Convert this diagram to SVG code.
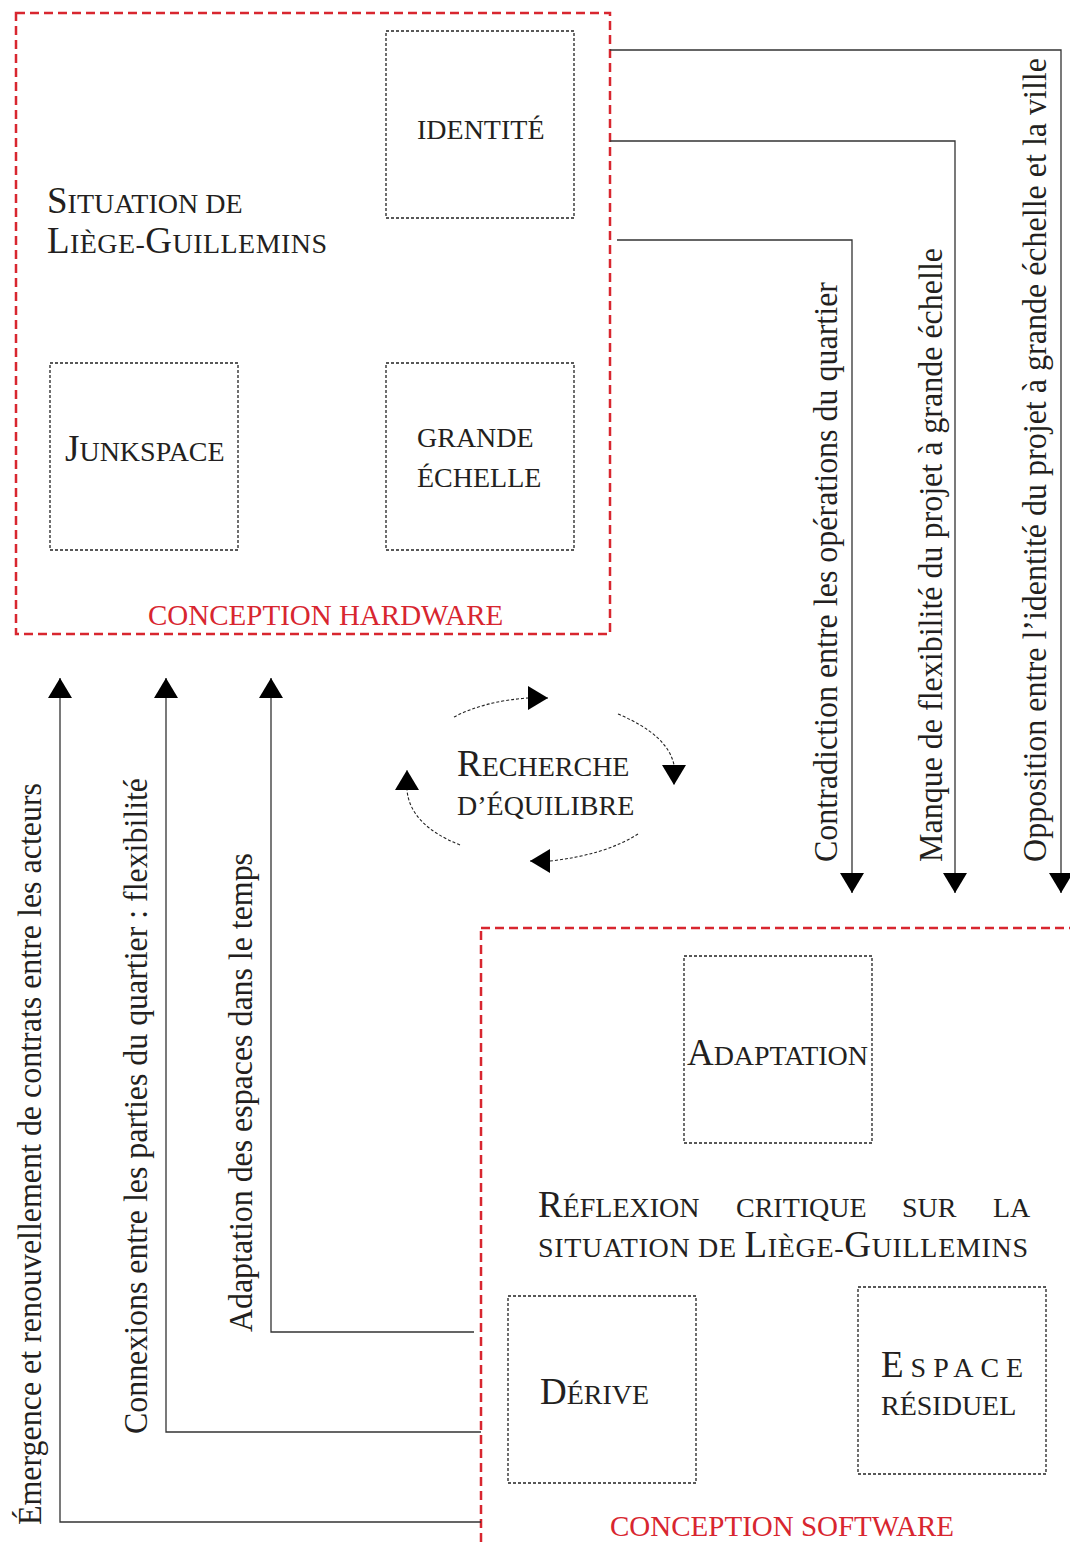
<svg xmlns="http://www.w3.org/2000/svg" width="1070" height="1546" viewBox="0 0 1070 1546">
<style>
  text { font-family: "Liberation Serif", "Times New Roman", serif; fill: #231f20; }
  .big { font-size: 37px; }
  .sc { font-size: 28px; }
  .red { fill: #d8262f; font-size: 29px; }
  .vt { font-size: 34px; }
  .container { fill: none; stroke: #d8262f; stroke-width: 2.5; stroke-dasharray: 9 5; }
  .box { fill: none; stroke: #222; stroke-width: 1.3; stroke-dasharray: 3 2; }
  .conn { fill: none; stroke: #333; stroke-width: 1.3; }
  .cyc { fill: none; stroke: #222; stroke-width: 1.1; stroke-dasharray: 3 2; }
</style>
<defs>
  <marker id="arrow" markerUnits="userSpaceOnUse" markerWidth="22" markerHeight="26" refX="20" refY="12" orient="auto" viewBox="0 0 22 26">
    <path d="M0,0 L20,12 L0,24 z" fill="#000"/>
  </marker>
</defs>
<rect width="1070" height="1546" fill="#fff"/>

<g id="hardware">
  <rect class="container" x="16" y="13" width="594" height="621"/>
  <text x="148" y="625" class="red">CONCEPTION HARDWARE</text>
  <text x="47" y="213"><tspan class="big">S</tspan><tspan class="sc">ITUATION DE</tspan></text>
  <text x="47" y="253" textLength="280" lengthAdjust="spacing"><tspan class="big">L</tspan><tspan class="sc">IÈGE-</tspan><tspan class="big">G</tspan><tspan class="sc">UILLEMINS</tspan></text>
</g>
<g id="identite">
  <rect class="box" x="386" y="31" width="188" height="187"/>
  <text x="417" y="139" class="sc">IDENTITÉ</text>
</g>
<g id="junkspace">
  <rect class="box" x="50" y="363" width="188" height="187"/>
  <text x="65" y="461"><tspan class="big">J</tspan><tspan class="sc">UNKSPACE</tspan></text>
</g>
<g id="grande-echelle">
  <rect class="box" x="386" y="363" width="188" height="187"/>
  <text x="417" y="447" class="sc">GRANDE</text>
  <text x="417" y="487" class="sc">ÉCHELLE</text>
</g>

<g id="software">
  <rect class="container" x="481" y="928" width="620" height="660"/>
  <text x="610" y="1536" class="red">CONCEPTION SOFTWARE</text>
  <text x="538" y="1217"><tspan class="big">R</tspan><tspan class="sc">ÉFLEXION</tspan></text>
  <text x="736" y="1217" class="sc">CRITIQUE</text>
  <text x="902" y="1217" class="sc">SUR</text>
  <text x="993" y="1217" class="sc">LA</text>
  <text x="538" y="1257" textLength="490" lengthAdjust="spacing"><tspan class="sc">SITUATION DE </tspan><tspan class="big">L</tspan><tspan class="sc">IÈGE-</tspan><tspan class="big">G</tspan><tspan class="sc">UILLEMINS</tspan></text>
</g>
<g id="adaptation">
  <rect class="box" x="684" y="956" width="188" height="187"/>
  <text x="687" y="1065" textLength="181" lengthAdjust="spacing"><tspan class="big">A</tspan><tspan class="sc">DAPTATION</tspan></text>
</g>
<g id="derive">
  <rect class="box" x="508" y="1296" width="188" height="187"/>
  <text x="540" y="1404"><tspan class="big">D</tspan><tspan class="sc">ÉRIVE</tspan></text>
</g>
<g id="espace-residuel">
  <rect class="box" x="858" y="1287" width="188" height="187"/>
  <text x="881" y="1377" letter-spacing="7"><tspan class="big">E</tspan><tspan class="sc">SPACE</tspan></text>
  <text x="881" y="1415" class="sc">RÉSIDUEL</text>
</g>

<g id="recherche-equilibre">
  <text x="457" y="776"><tspan class="big">R</tspan><tspan class="sc">ECHERCHE</tspan></text>
  <text x="457" y="815" class="sc">D’ÉQUILIBRE</text>
  <path class="cyc" d="M454,717 Q485,701 528,698 L548,698" marker-end="url(#arrow)"/>
  <path class="cyc" d="M618,714 Q668,735 674,765 L674,785" marker-end="url(#arrow)"/>
  <path class="cyc" d="M638,834 Q605,855 550,861 L530,861" marker-end="url(#arrow)"/>
  <path class="cyc" d="M460,845 Q410,825 407,790 L407,770" marker-end="url(#arrow)"/>
</g>

<g id="connectors">
  <path class="conn" d="M610,50 H1061 V893" marker-end="url(#arrow)"/>
  <path class="conn" d="M610,141 H955 V893" marker-end="url(#arrow)"/>
  <path class="conn" d="M617,240 H852 V893" marker-end="url(#arrow)"/>
  <path class="conn" d="M481,1522 H60 V678" marker-end="url(#arrow)"/>
  <path class="conn" d="M481,1432 H166 V678" marker-end="url(#arrow)"/>
  <path class="conn" d="M474,1332 H271 V678" marker-end="url(#arrow)"/>
</g>

<g id="connector-labels">
  <text class="vt" transform="translate(837,862) rotate(-90)" textLength="580" lengthAdjust="spacingAndGlyphs">Contradiction entre les opérations du quartier</text>
  <text class="vt" transform="translate(942,862) rotate(-90)" textLength="614" lengthAdjust="spacingAndGlyphs">Manque de flexibilité du projet à grande échelle</text>
  <text class="vt" transform="translate(1046,862) rotate(-90)" textLength="804" lengthAdjust="spacingAndGlyphs">Opposition entre l’identité du projet à grande échelle et la ville</text>
  <text class="vt" transform="translate(41,1525) rotate(-90)" textLength="742" lengthAdjust="spacingAndGlyphs">Émergence et renouvellement de contrats entre les acteurs</text>
  <text class="vt" transform="translate(147,1434) rotate(-90)" textLength="656" lengthAdjust="spacingAndGlyphs">Connexions entre les parties du quartier : flexibilité</text>
  <text class="vt" transform="translate(252,1332) rotate(-90)" textLength="479" lengthAdjust="spacingAndGlyphs">Adaptation des espaces dans le temps</text>
</g>
</svg>
